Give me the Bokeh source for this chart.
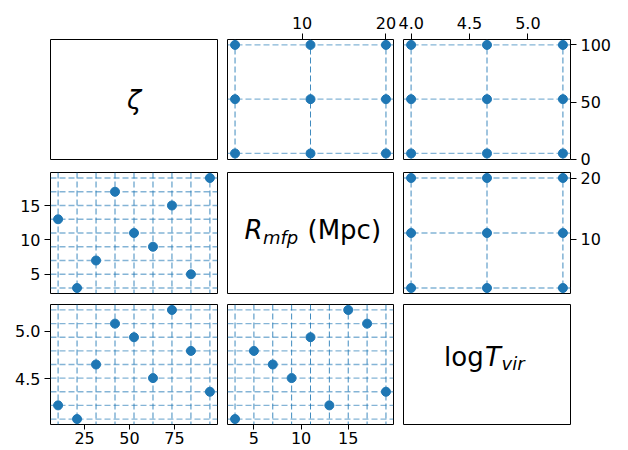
from bokeh.plotting import figure
from bokeh.layouts import gridplot
from bokeh.models import Range1d, LinearAxis, FixedTicker, Span, Label, NumeralTickFormatter
from bokeh.embed import file_html
from bokeh.resources import INLINE

# Latin-hypercube samples (lower triangle)
zeta_lhs = [10.28, 20.83, 31.39, 41.94, 52.50, 63.06, 73.61, 84.17, 94.72]
rmfp_lhs = [13, 3, 7, 17, 11, 9, 15, 5, 19]
tvir_lhs = [4.217, 4.072, 4.650, 5.083, 4.939, 4.506, 5.228, 4.794, 4.361]

# regular grid samples (upper triangle)
zeta_grid = [5.0, 52.5, 100.0]
rmfp_grid = [2.0, 11.0, 20.0]
tvir_grid = [4.0, 4.65, 5.3]

labels = ["zeta", "rmfp", "tvir"]

ticks = {
    "zeta_bottom": [25, 50, 75],
    "rmfp_left": [5, 10, 15],
    "tvir_left": [4.5, 5.0],
    "rmfp_bottom": [5, 10, 15],
    "rmfp_top": [10, 20],
    "tvir_top": [4.0, 4.5, 5.0],
    "zeta_right": [0, 50, 100],
    "rmfp_right": [10, 20],
}

BLUE = "#1f77b4"
FONT = "DejaVu Sans"
TICK_FS = "16px"

col_left = [50, 5, 5]
col_right = [5, 5, 57]
frame_w = [167, 166, 167]
row_top = [39, 3, 5]
row_bottom = [10, 6, 26]
frame_h = [120, 121, 120]


def rng(vals, start=None):
    mn, mx = min(vals), max(vals)
    pad = 0.05 * (mx - mn)
    return Range1d(mn - pad if start is None else start, mx + pad)


def make_fig(r, c, xr, yr):
    p = figure(width=col_left[c] + frame_w[c] + col_right[c],
               height=row_top[r] + frame_h[r] + row_bottom[r],
               x_range=xr, y_range=yr,
               x_axis_location=None, y_axis_location=None,
               toolbar_location=None, output_backend="svg")
    p.min_border_left = col_left[c]
    p.min_border_right = col_right[c]
    p.min_border_top = row_top[r]
    p.min_border_bottom = row_bottom[r]
    p.grid.visible = False
    p.outline_line_color = "black"
    p.outline_line_width = 1
    p.outline_line_alpha = 1
    p.background_fill_color = "white"
    p.border_fill_color = "white"
    return p


def add_axis(p, side, tks, fmt=None):
    ax = LinearAxis(ticker=FixedTicker(ticks=tks))
    ax.axis_line_color = None
    ax.major_tick_line_color = "black"
    ax.major_tick_line_width = 1
    ax.major_tick_in = 0
    ax.minor_tick_line_color = None
    ax.major_label_text_font = FONT
    ax.major_label_text_font_size = TICK_FS
    ax.major_label_text_color = "black"
    if side == "above":
        ax.major_tick_out, ax.major_label_standoff = 6, 5
    elif side == "below":
        ax.major_tick_out, ax.major_label_standoff = 5, 2
    else:
        ax.major_tick_out, ax.major_label_standoff = 6, 4
    if fmt:
        ax.formatter = NumeralTickFormatter(format=fmt)
    p.add_layout(ax, side)


def add_lines(p, xs, ys):
    for v in xs:
        p.add_layout(Span(location=v, dimension="height", line_color=BLUE,
                          line_dash="6 3", line_width=1, line_alpha=0.85,
                          level="underlay"))
    for v in ys:
        p.add_layout(Span(location=v, dimension="width", line_color=BLUE,
                          line_dash="6 3", line_width=1.3, line_alpha=0.55,
                          level="underlay"))


lhs = {"zeta": zeta_lhs, "rmfp": rmfp_lhs, "tvir": tvir_lhs}
grid = {"zeta": zeta_grid, "rmfp": rmfp_grid, "tvir": tvir_grid}

figs = [[None] * 3 for _ in range(3)]

# ---- lower triangle (LHS samples) ----
for (r, c) in [(1, 0), (2, 0), (2, 1)]:
    xk, yk = labels[c], labels[r]
    p = make_fig(r, c, rng(lhs[xk]), rng(lhs[yk]))
    add_lines(p, lhs[xk], lhs[yk])
    p.scatter(lhs[xk], lhs[yk], size=9, color=BLUE)
    figs[r][c] = p

add_axis(figs[1][0], "left", ticks["rmfp_left"])
add_axis(figs[2][0], "left", ticks["tvir_left"], "0.0")
add_axis(figs[2][0], "below", ticks["zeta_bottom"])
add_axis(figs[2][1], "below", ticks["rmfp_bottom"])

# ---- upper triangle (regular grid) ----
for (r, c) in [(0, 1), (0, 2), (1, 2)]:
    xk, yk = labels[c], labels[r]
    gx = [x for x in grid[xk] for _ in grid[yk]]
    gy = [y for _ in grid[xk] for y in grid[yk]]
    yr = rng(grid[yk], start=-0.3) if yk == "zeta" else rng(grid[yk])
    p = make_fig(r, c, rng(grid[xk]), yr)
    add_lines(p, grid[xk], grid[yk])
    p.scatter(gx, gy, size=9, color=BLUE)
    figs[r][c] = p

add_axis(figs[0][1], "above", ticks["rmfp_top"])
add_axis(figs[0][2], "above", ticks["tvir_top"], "0.0")
add_axis(figs[0][2], "right", ticks["zeta_right"])
add_axis(figs[1][2], "right", ticks["rmfp_right"])

# ---- diagonal labels ----
for i in range(3):
    p = make_fig(i, i, Range1d(0, 1), Range1d(0, 1))
    figs[i][i] = p


def lab(p, text, dx, dy, size="26px", style="normal"):
    p.add_layout(Label(x=0.5, y=0.5, x_offset=dx, y_offset=dy, text=text,
                       text_font=FONT, text_font_size=size, text_font_style=style,
                       text_baseline="middle", text_align="left",
                       text_color="black"))


figs[0][0].add_layout(Label(x=0.5, y=0.5, text="ζ", text_align="center",
                            text_baseline="middle", text_font=FONT,
                            text_font_size="26px", text_font_style="italic",
                            text_color="black"))

# R_mfp (Mpc)
p = figs[1][1]
base = 3
lab(p, "R", -66, base, style="italic")
lab(p, "mfp", -47.5, base - 7, size="18px", style="italic")
lab(p, "(Mpc)", -3, base)

# logT_vir
p = figs[2][2]
base = 8
lab(p, "log", -43, base)
lab(p, "T", -2, base, style="italic")
lab(p, "vir", 14.5, base - 7, size="18px", style="italic")

layout = gridplot(figs, toolbar_location=None)

open("out.html", "w").write(file_html(layout, INLINE))
